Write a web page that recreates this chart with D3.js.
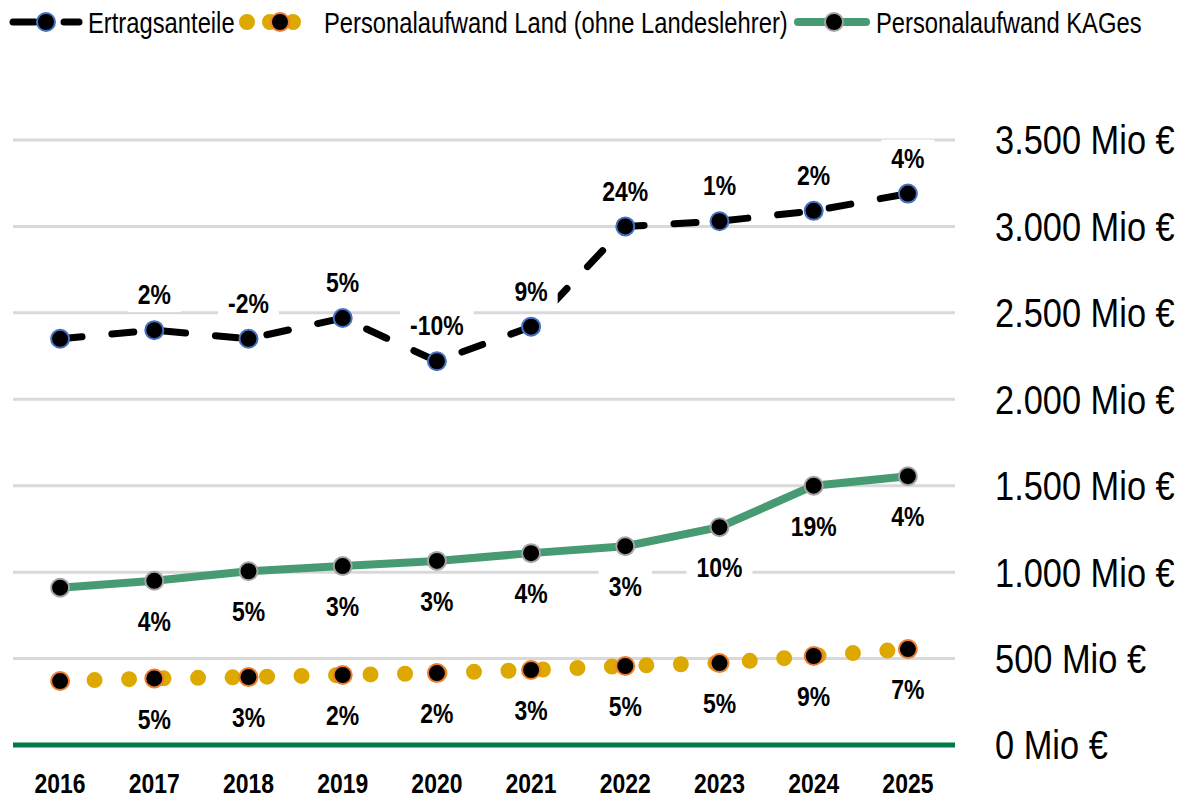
<!DOCTYPE html>
<html>
<head>
<meta charset="utf-8">
<script src="https://cdn.jsdelivr.net/npm/d3@7"></script>
<style>
  body { margin: 0; background: #fff; }
  text { font-family: "Liberation Sans", Arial, sans-serif; }
</style>
</head>
<body>
<div class="chart"></div>
<script>
var years = ["2016", "2017", "2018", "2019", "2020", "2021", "2022", "2023", "2024", "2025"];
var ertrag = [2350, 2400, 2350, 2470, 2220, 2420, 3000, 3030, 3090, 3190];
var kages = [910, 950, 1005, 1035, 1065, 1110, 1150, 1260, 1500, 1555];
var land = [370, 385, 393, 405, 416, 434, 457, 474, 515, 555];
var ertragLbl = ["", "2%", "-2%", "5%", "-10%", "9%", "24%", "1%", "2%", "4%"];
var kagesLbl = ["", "4%", "5%", "3%", "3%", "4%", "3%", "10%", "19%", "4%"];
var landLbl = ["", "5%", "3%", "2%", "2%", "3%", "5%", "5%", "9%", "7%"];
var ticks = [0, 500, 1000, 1500, 2000, 2500, 3000, 3500];

var width = 1187, height = 799;
var black = "#000", yellow = "#dda800", green = "#469b72", axisGreen = "#007a46";
var narrow = 0.82; // fake "Arial Narrow" by squeezing Liberation Sans

var x = d3.scaleBand().domain(years).range([13, 955]);
var y = d3.scaleLinear().domain([0, 3500]).range([745, 140]);
var cx = function (i) { return x(years[i]) + x.bandwidth() / 2; };

var svg = d3.select(".chart").append("svg")
    .attr("width", width)
    .attr("height", height);

// squeezed text placed at (px, py)
function ntext(g, px, py, str, size, opts) {
    opts = opts || {};
    var sx = opts.sx || narrow;
    return g.append("text")
        .attr("transform", "translate(" + px + "," + py + ") scale(" + sx + ",1)")
        .attr("dy", opts.dy || null)
        .attr("text-anchor", opts.anchor || "start")
        .style("font-size", size + "px")
        .style("font-weight", opts.bold ? "bold" : "normal")
        .text(str);
}

// gridlines
svg.append("g").selectAll("line")
    .data(ticks.filter(function (t) { return t > 0; })).enter()
    .append("line")
    .attr("x1", 13).attr("x2", 955)
    .attr("y1", function (d) { return y(d); })
    .attr("y2", function (d) { return y(d); })
    .attr("stroke", "#d9d9d9")
    .attr("stroke-width", 3);

// y axis labels on the right
var yax = svg.append("g");
ticks.forEach(function (t) {
    ntext(yax, 995, y(t), d3.format(",")(t).replace(/,/g, ".") + " Mio €", 40, { sx: 0.86, dy: "0.36em" });
});

// x axis
svg.append("line")
    .attr("x1", 13).attr("x2", 955)
    .attr("y1", y(0)).attr("y2", y(0))
    .attr("stroke", axisGreen)
    .attr("stroke-width", 5);

var xax = svg.append("g");
years.forEach(function (d, i) {
    ntext(xax, cx(i), 783, d, 28, { bold: true, anchor: "middle", dy: "0.36em" });
});

var line = function (vals) {
    return d3.line().x(function (d, i) { return cx(i); }).y(function (d) { return y(d); })(vals);
};

// Personalaufwand Land: dotted yellow
svg.append("path")
    .attr("d", line(land))
    .attr("fill", "none")
    .attr("stroke", yellow)
    .attr("stroke-width", 16)
    .attr("stroke-linecap", "round")
    .attr("stroke-dasharray", "0 34.5");

// Personalaufwand KAGes: solid green
svg.append("path")
    .attr("d", line(kages))
    .attr("fill", "none")
    .attr("stroke", green)
    .attr("stroke-width", 8)
    .attr("stroke-linejoin", "round");

// Ertragsanteile: dashed black
svg.append("path")
    .attr("d", line(ertrag))
    .attr("fill", "none")
    .attr("stroke", black)
    .attr("stroke-width", 7)
    .attr("stroke-linecap", "round")
    .attr("stroke-dasharray", "22 30");

function markers(vals, strokeCol) {
    svg.append("g").selectAll("circle")
        .data(vals).enter()
        .append("circle")
        .attr("cx", function (d, i) { return cx(i); })
        .attr("cy", function (d) { return y(d); })
        .attr("r", 9)
        .attr("fill", black)
        .attr("stroke", strokeCol)
        .attr("stroke-width", 2);
}
markers(land, "#ed7d31");
markers(kages, "#a5a5a5");
markers(ertrag, "#4472c4");

function labels(vals, lbls, off) {
    var g = svg.append("g");
    vals.forEach(function (v, i) {
        if (!lbls[i]) return;
        var t = ntext(g, cx(i), y(v) + off, lbls[i], 28, { bold: true, anchor: "middle", dy: "0.36em" });
        var w = t.node().getComputedTextLength() * narrow;
        g.insert("rect", "text")
            .attr("x", cx(i) - w / 2 - 10)
            .attr("y", y(v) + off - 18)
            .attr("width", w + 20)
            .attr("height", 36)
            .attr("fill", "#fff");
    });
}
labels(ertrag, ertragLbl, -36);
labels(kages, kagesLbl, 40);
labels(land, landLbl, 40);

// legend
var lg = svg.append("g");
lg.append("line").attr("x1", 13).attr("x2", 35).attr("y1", 22).attr("y2", 22)
    .attr("stroke", black).attr("stroke-width", 7).attr("stroke-linecap", "round");
lg.append("line").attr("x1", 64).attr("x2", 79).attr("y1", 22).attr("y2", 22)
    .attr("stroke", black).attr("stroke-width", 7).attr("stroke-linecap", "round");
lg.append("circle").attr("cx", 46).attr("cy", 22).attr("r", 9)
    .attr("fill", black).attr("stroke", "#4472c4").attr("stroke-width", 2);
ntext(lg, 88, 33, "Ertragsanteile", 29);

lg.append("line").attr("x1", 247).attr("x2", 294).attr("y1", 22).attr("y2", 22)
    .attr("stroke", yellow).attr("stroke-width", 16).attr("stroke-linecap", "round")
    .attr("stroke-dasharray", "0 23");
lg.append("circle").attr("cx", 280).attr("cy", 22).attr("r", 9)
    .attr("fill", black).attr("stroke", "#ed7d31").attr("stroke-width", 2);
ntext(lg, 324, 33, "Personalaufwand Land (ohne Landeslehrer)", 29);

lg.append("line").attr("x1", 798).attr("x2", 866).attr("y1", 22).attr("y2", 22)
    .attr("stroke", green).attr("stroke-width", 8).attr("stroke-linecap", "round");
lg.append("circle").attr("cx", 834).attr("cy", 22).attr("r", 9)
    .attr("fill", black).attr("stroke", "#a5a5a5").attr("stroke-width", 2);
ntext(lg, 876, 33, "Personalaufwand KAGes", 29);
</script>
</body>
</html>
